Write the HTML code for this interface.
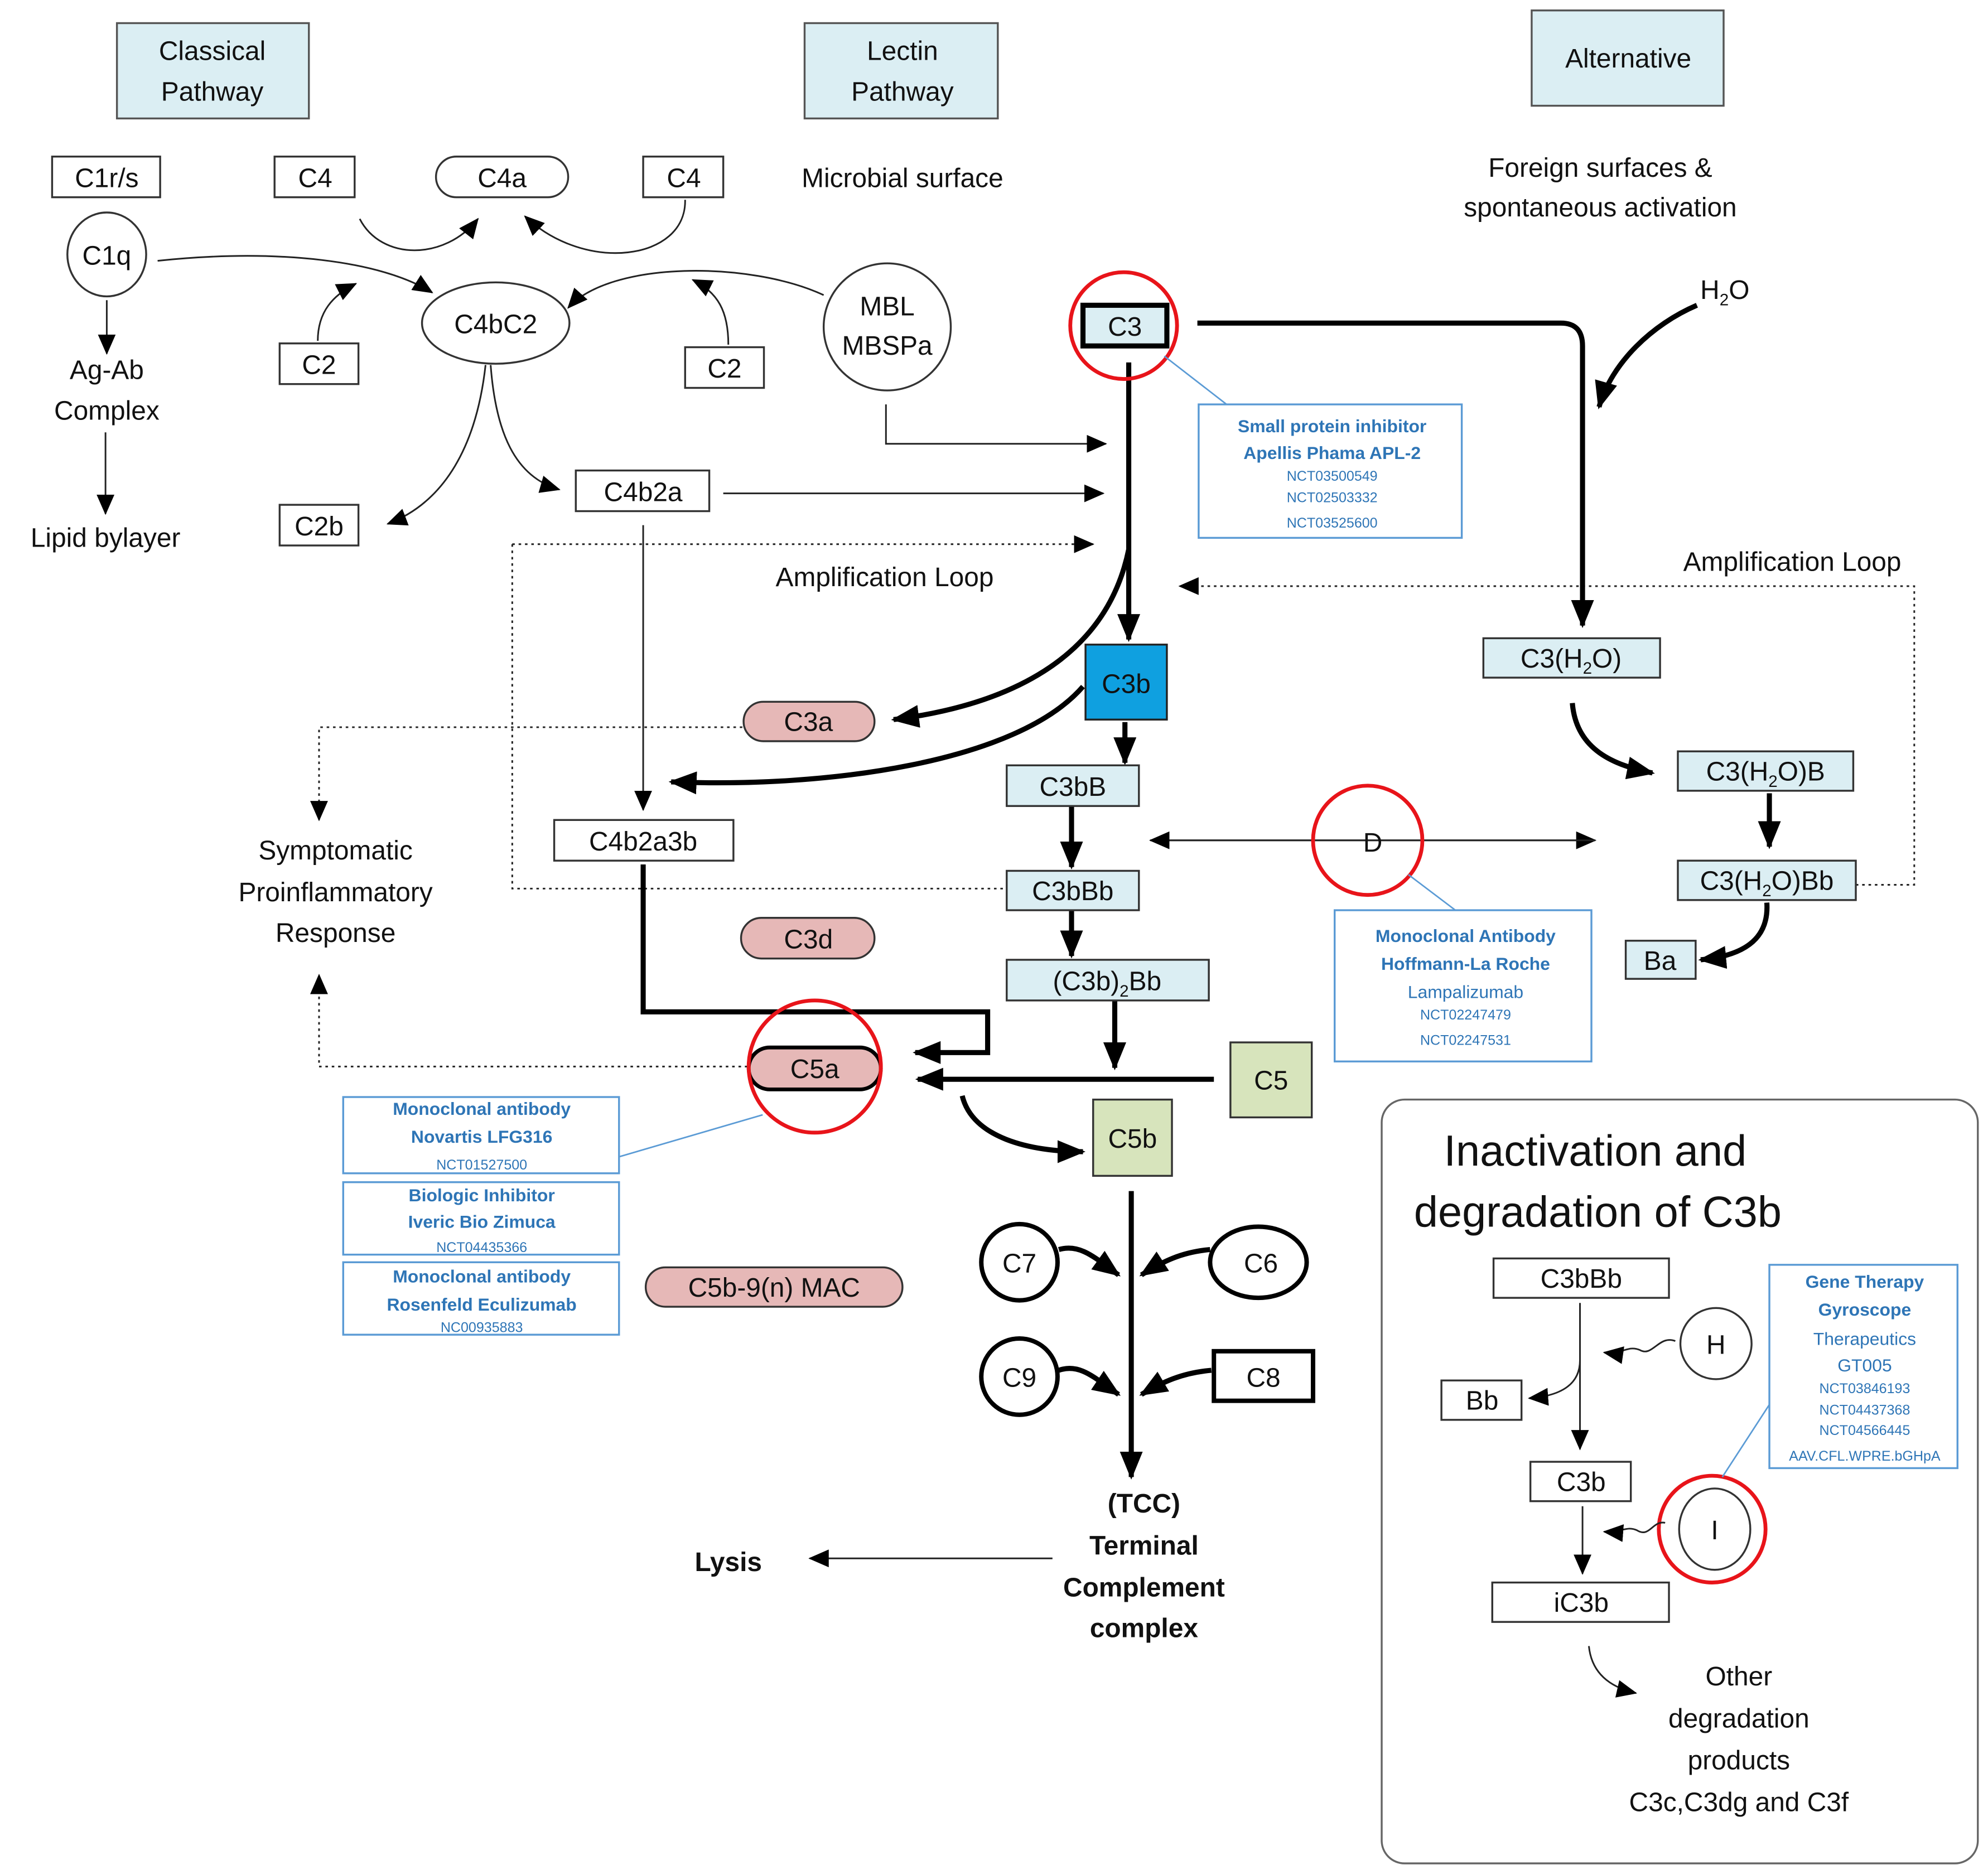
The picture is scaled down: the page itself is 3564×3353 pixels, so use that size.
<!DOCTYPE html>
<html><head><meta charset="utf-8"><style>
html,body{margin:0;padding:0;background:#fff;}
svg{display:block;}
text{font-family:"Liberation Sans","DejaVu Sans",sans-serif;fill:#111;}
.l{font-size:21px;text-anchor:middle;}
.b{fill:#2e75b6;text-anchor:middle;font-size:14px;font-weight:bold;}
.n{fill:#2e75b6;text-anchor:middle;font-size:11px;}
.m{fill:#2e75b6;text-anchor:middle;font-size:14px;}
</style></head><body>
<svg width="3564" height="3353" viewBox="0 0 1564 1471" xmlns="http://www.w3.org/2000/svg">
<defs>
<marker id="a" markerWidth="10" markerHeight="10" refX="9" refY="5" orient="auto" markerUnits="userSpaceOnUse"><path d="M0,0 L10,5 L0,10 z" fill="#000"/></marker>
<marker id="A" markerWidth="22" markerHeight="18" refX="20" refY="9" orient="auto" markerUnits="userSpaceOnUse"><path d="M0,0 L22,9 L0,18 z" fill="#000"/></marker>
<marker id="m" markerWidth="16" markerHeight="14" refX="15" refY="7" orient="auto" markerUnits="userSpaceOnUse"><path d="M0,0 L16,7 L0,14 z" fill="#000"/></marker>
</defs>
<g stroke="#555" stroke-width="1.5" fill="#dbeef3">
<rect x="92" y="18" width="151" height="75"/>
<rect x="633" y="18" width="152" height="75"/>
<rect x="1205" y="8" width="151" height="75"/>
</g>
<text class="l" x="167" y="47">Classical</text><text class="l" x="167" y="79">Pathway</text>
<text class="l" x="710" y="47">Lectin</text><text class="l" x="710" y="79">Pathway</text>
<text class="l" x="1281" y="53">Alternative</text>
<text class="l" x="710" y="147">Microbial surface</text>
<text class="l" x="1259" y="139">Foreign surfaces &amp;</text>
<text class="l" x="1259" y="170">spontaneous activation</text>
<text class="l" x="1357" y="235">H<tspan font-size="13" dy="5">2</tspan><tspan dy="-5">O</tspan></text>

<g stroke="#333" stroke-width="1.5" fill="#fff">
<rect x="41" y="123" width="85" height="32"/>
<rect x="216" y="123" width="63" height="32"/>
<rect x="343" y="123" width="104" height="32" rx="16"/>
<rect x="506" y="123" width="63" height="32"/>
<ellipse cx="84" cy="200" rx="31" ry="33"/>
<ellipse cx="390" cy="254" rx="58" ry="32"/>
<circle cx="698" cy="257" r="50"/>
<rect x="220" y="270" width="62" height="32"/>
<rect x="539" y="273" width="62" height="32"/>
<rect x="220" y="397" width="62" height="32"/>
<rect x="453" y="370" width="105" height="32"/>
<rect x="436" y="645" width="141" height="32"/>
</g>
<text class="l" x="84" y="147">C1r/s</text>
<text class="l" x="248" y="147">C4</text>
<text class="l" x="395" y="147">C4a</text>
<text class="l" x="538" y="147">C4</text>
<text class="l" x="84" y="208">C1q</text>
<text class="l" x="390" y="262">C4bC2</text>
<text class="l" x="698" y="248">MBL</text>
<text class="l" x="698" y="279">MBSPa</text>
<text class="l" x="251" y="294">C2</text>
<text class="l" x="570" y="297">C2</text>
<text class="l" x="251" y="421">C2b</text>
<text class="l" x="506" y="394">C4b2a</text>
<text class="l" x="506" y="669">C4b2a3b</text>
<text class="l" x="84" y="298">Ag-Ab</text><text class="l" x="84" y="330">Complex</text>
<text class="l" x="83" y="430">Lipid bylayer</text>
<text class="l" x="696" y="461">Amplification Loop</text>
<text class="l" x="1410" y="449">Amplification Loop</text>
<text class="l" x="264" y="676">Symptomatic</text>
<text class="l" x="264" y="709">Proinflammatory</text>
<text class="l" x="264" y="741">Response</text>

<!-- thin arrows top-left -->
<g stroke="#222" stroke-width="1.3" fill="none" marker-end="url(#m)">
<path d="M84,236 L84,278"/>
<path d="M83,340 L83,404"/>
<path d="M124,205 C220,195 300,205 340,230"/>
<path d="M648,232 C590,205 480,205 447,242"/>
<path d="M283,172 C300,205 350,205 376,172"/>
<path d="M539,157 C540,205 460,215 413,170"/>
<path d="M250,268 C250,245 262,232 280,223"/>
<path d="M573,271 C573,245 565,230 545,220"/>
<path d="M382,287 C375,350 350,395 305,412"/>
<path d="M386,287 C390,340 405,375 440,385"/>
<path d="M697,318 L697,349 L870,349"/>
<path d="M569,388 L868,388"/>
<path d="M506,413 L506,637"/>
<path d="M905,661 L1255,661"/>
<path d="M1255,661 L905,661"/>
<path d="M828,1226 L637,1226"/>
</g>
<!-- dotted -->
<g stroke="#222" stroke-width="1.3" fill="none" stroke-dasharray="2,3">
<path d="M403,428 L860,428" marker-end="url(#m)"/>
<path d="M403,428 L403,699 L790,699"/>
<path d="M1460,696 L1506,696 L1506,461 L928,461" marker-end="url(#m)"/>
<path d="M584,572 L251,572 L251,645" marker-end="url(#m)"/>
<path d="M588,839 L251,839 L251,767" marker-end="url(#m)"/>
</g>
<!-- thick -->
<g stroke="#000" stroke-width="4" fill="none" marker-end="url(#A)">
<path d="M888,285 L888,503"/>
<path d="M942,254 L1228,254 Q1245,254 1245,272 L1245,492"/>
<path d="M1335,240 C1300,255 1268,285 1258,320"/>
<path d="M888,432 C870,520 790,555 703,566"/>
<path d="M852,540 C800,600 650,620 528,615"/>
<path d="M885,568 L885,600"/>
<path d="M843,634 L843,682"/>
<path d="M843,716 L843,752"/>
<path d="M1237,553 C1240,590 1270,602 1300,608"/>
<path d="M1392,624 L1392,666"/>
<path d="M1390,710 C1392,740 1370,752 1338,755"/>
<path d="M506,680 L506,796 L777,796 L777,828 L720,828"/>
<path d="M877,787 L877,840"/>
<path d="M955,849 L722,849"/>
<path d="M757,862 C765,895 810,906 852,906"/>
<path d="M890,937 L890,1162"/>
<path d="M833,983 C850,978 862,990 880,1003"/>
<path d="M952,983 C930,985 915,992 898,1003"/>
<path d="M833,1078 C850,1072 862,1085 880,1097"/>
<path d="M953,1078 C930,1080 915,1087 898,1097"/>
</g>

<!-- alt boxes -->
<g stroke="#333" stroke-width="1.5" fill="#dbeef3">
<rect x="1167" y="502" width="139" height="31"/>
<rect x="1320" y="591" width="138" height="31"/>
<rect x="1320" y="677" width="140" height="31"/>
<rect x="1279" y="740" width="55" height="30"/>
<rect x="792" y="602" width="104" height="32"/>
<rect x="792" y="685" width="104" height="31"/>
<rect x="792" y="755" width="159" height="32"/>
</g>
<rect x="852" y="240" width="66" height="32" fill="#dbeef3" stroke="#000" stroke-width="4"/>
<rect x="854" y="507" width="64" height="59" fill="#0fa0e0" stroke="#222" stroke-width="1.5"/>
<g stroke="#333" stroke-width="1.5" fill="#e6b8b7">
<rect x="585" y="552" width="103" height="31" rx="15.5"/>
<rect x="583" y="722" width="105" height="32" rx="16"/>
<rect x="508" y="997" width="202" height="31" rx="15.5"/>
</g>
<rect x="589" y="824" width="104" height="33" rx="16.5" fill="#e6b8b7" stroke="#000" stroke-width="3"/>
<g stroke="#333" stroke-width="1.5" fill="#d7e4bc">
<rect x="968" y="820" width="64" height="59"/>
<rect x="860" y="865" width="62" height="60"/>
</g>
<text class="l" x="1236" y="525">C3(H<tspan font-size="13" dy="5">2</tspan><tspan dy="-5">O)</tspan></text>
<text class="l" x="1389" y="614">C3(H<tspan font-size="13" dy="5">2</tspan><tspan dy="-5">O)B</tspan></text>
<text class="l" x="1390" y="700">C3(H<tspan font-size="13" dy="5">2</tspan><tspan dy="-5">O)Bb</tspan></text>
<text class="l" x="1306" y="763">Ba</text>
<text class="l" x="885" y="264">C3</text>
<text class="l" x="886" y="545">C3b</text>
<text class="l" x="844" y="626">C3bB</text>
<text class="l" x="844" y="708">C3bBb</text>
<text class="l" x="871" y="779">(C3b)<tspan font-size="13" dy="5">2</tspan><tspan dy="-5">Bb</tspan></text>
<text class="l" x="636" y="575">C3a</text>
<text class="l" x="636" y="746">C3d</text>
<text class="l" x="641" y="848">C5a</text>
<text class="l" x="609" y="1020">C5b-9(n) MAC</text>
<text class="l" x="1000" y="857">C5</text>
<text class="l" x="891" y="903">C5b</text>
<text class="l" x="1080" y="670">D</text>

<g stroke="#000" stroke-width="3.5" fill="#fff">
<circle cx="802" cy="993" r="30"/>
<ellipse cx="990" cy="993" rx="38" ry="28"/>
<circle cx="802" cy="1083" r="30"/>
<rect x="955" y="1063" width="78" height="39"/>
</g>
<text class="l" x="802" y="1001">C7</text>
<text class="l" x="992" y="1001">C6</text>
<text class="l" x="802" y="1091">C9</text>
<text class="l" x="994" y="1091">C8</text>

<g style="font-weight:bold">
<text class="l" x="900" y="1190" style="font-weight:bold">(TCC)</text>
<text class="l" x="900" y="1223" style="font-weight:bold">Terminal</text>
<text class="l" x="900" y="1256" style="font-weight:bold">Complement</text>
<text class="l" x="900" y="1288" style="font-weight:bold">complex</text>
<text class="l" x="573" y="1236" style="font-weight:bold">Lysis</text>
</g>

<!-- red circles -->
<g stroke="#e8141a" stroke-width="3" fill="none">
<circle cx="884" cy="256" r="42"/>
<circle cx="1076" cy="661" r="43"/>
<circle cx="641" cy="839" r="52"/>
<circle cx="1347" cy="1203" r="42"/>
</g>
<!-- callout lines -->
<g stroke="#5b9bd5" stroke-width="1.2">
<line x1="916" y1="280" x2="965" y2="318"/>
<line x1="1108" y1="688" x2="1145" y2="716"/>
<line x1="600" y1="877" x2="487" y2="910"/>
<line x1="1392" y1="1105" x2="1355" y2="1162"/>
</g>
<!-- blue boxes -->
<g stroke="#5b9bd5" stroke-width="1.5" fill="#fff">
<rect x="943" y="318" width="207" height="105"/>
<rect x="1050" y="716" width="202" height="119"/>
<rect x="270" y="863" width="217" height="60"/>
<rect x="270" y="930" width="217" height="57"/>
<rect x="270" y="993" width="217" height="57"/>
<rect x="1392" y="995" width="148" height="160"/>
</g>
<text class="b" x="1048" y="340">Small protein inhibitor</text>
<text class="b" x="1048" y="361">Apellis Phama APL-2</text>
<text class="n" x="1048" y="378">NCT03500549</text>
<text class="n" x="1048" y="395">NCT02503332</text>
<text class="n" x="1048" y="415">NCT03525600</text>
<text class="b" x="1153" y="741">Monoclonal Antibody</text>
<text class="b" x="1153" y="763">Hoffmann-La Roche</text>
<text class="m" x="1153" y="785">Lampalizumab</text>
<text class="n" x="1153" y="802">NCT02247479</text>
<text class="n" x="1153" y="822">NCT02247531</text>
<text class="b" x="379" y="877">Monoclonal antibody</text>
<text class="b" x="379" y="899">Novartis LFG316</text>
<text class="n" x="379" y="920">NCT01527500</text>
<text class="b" x="379" y="945">Biologic Inhibitor</text>
<text class="b" x="379" y="966">Iveric Bio Zimuca</text>
<text class="n" x="379" y="985">NCT04435366</text>
<text class="b" x="379" y="1009">Monoclonal antibody</text>
<text class="b" x="379" y="1031">Rosenfeld Eculizumab</text>
<text class="n" x="379" y="1048">NC00935883</text>
<text class="b" x="1467" y="1013">Gene Therapy</text>
<text class="b" x="1467" y="1035">Gyroscope</text>
<text class="m" x="1467" y="1058">Therapeutics</text>
<text class="m" x="1467" y="1079">GT005</text>
<text class="n" x="1467" y="1096">NCT03846193</text>
<text class="n" x="1467" y="1113">NCT04437368</text>
<text class="n" x="1467" y="1129">NCT04566445</text>
<text class="n" x="1467" y="1149">AAV.CFL.WPRE.bGHpA</text>

<!-- inactivation panel -->
<rect x="1087" y="865" width="469" height="601" rx="18" fill="none" stroke="#666" stroke-width="1.5"/>
<text x="1255" y="917" style="font-size:34px;text-anchor:middle">Inactivation and</text>
<text x="1257" y="965" style="font-size:34px;text-anchor:middle">degradation of C3b</text>
<g stroke="#333" stroke-width="1.5" fill="#fff">
<rect x="1175" y="990" width="138" height="31"/>
<rect x="1134" y="1086" width="63" height="31"/>
<rect x="1204" y="1150" width="79" height="31"/>
<rect x="1174" y="1245" width="139" height="31"/>
<circle cx="1350" cy="1057" r="28"/>
<ellipse cx="1349" cy="1203" rx="28" ry="32"/>
</g>
<text class="l" x="1244" y="1013">C3bBb</text>
<text class="l" x="1166" y="1109">Bb</text>
<text class="l" x="1244" y="1173">C3b</text>
<text class="l" x="1244" y="1268">iC3b</text>
<text class="l" x="1350" y="1065">H</text>
<text class="l" x="1349" y="1211">I</text>
<text class="l" x="1368" y="1326">Other</text>
<text class="l" x="1368" y="1359">degradation</text>
<text class="l" x="1368" y="1392">products</text>
<text class="l" x="1368" y="1425">C3c,C3dg and C3f</text>
<g stroke="#222" stroke-width="1.3" fill="none" marker-end="url(#m)">
<path d="M1243,1025 L1243,1140"/>
<path d="M1243,1070 C1243,1088 1230,1098 1203,1100"/>
<path d="M1318,1055 C1305,1050 1300,1068 1290,1062 C1280,1058 1276,1066 1262,1064"/>
<path d="M1245,1185 L1245,1238"/>
<path d="M1310,1198 C1300,1196 1298,1210 1288,1204 C1280,1200 1275,1206 1262,1205"/>
<path d="M1250,1295 C1252,1315 1265,1327 1287,1332"/>
</g>
</svg>
</body></html>
